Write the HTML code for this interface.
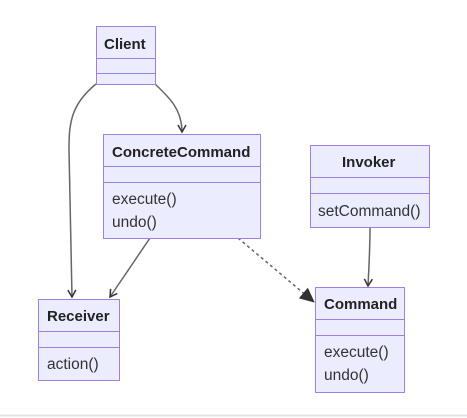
<!DOCTYPE html>
<html><head><style>
body{margin:0;width:467px;height:418px;background:#fff;overflow:hidden;position:relative;font-family:"Liberation Sans","DejaVu Sans",sans-serif;}
.b{position:absolute;background:#ECECFF;border:1px solid #9f7fe0;box-sizing:border-box;}
.d{position:absolute;left:0;right:0;border-top:1px solid #9f7fe0;}
.t{position:absolute;font-size:15.5px;color:#333;white-space:nowrap;line-height:18px;}
.h{font-weight:bold;color:#222;font-size:15px;}
</style></head><body>
<svg width="467" height="418" style="position:absolute;left:0;top:0">
<defs>
<marker id="a" markerWidth="10" markerHeight="10" refX="8" refY="5" orient="auto" markerUnits="userSpaceOnUse"><path d="M1,1 L8,5 L1,9" fill="none" stroke="#333" stroke-width="1.5"/></marker>
<marker id="f" markerWidth="16" markerHeight="14" refX="14" refY="7" orient="auto" markerUnits="userSpaceOnUse"><path d="M0,0 L15,7 L0,14 z" fill="#333"/></marker>
</defs>
<g fill="none" stroke="#666" stroke-width="1.5">
<path d="M96,84 C70,105 69,125 69,150 L72,297" marker-end="url(#a)"/>
<path d="M155,84 C170,98 182,110 182,132" marker-end="url(#a)"/>
<path d="M150,238 L110,297" marker-end="url(#a)"/>
<path d="M238,238 L314,302" stroke-dasharray="3,3" marker-end="url(#f)"/>
<path d="M370,227 C370,250 369,265 368,286" marker-end="url(#a)"/>
</g>
<line x1="0" y1="415.5" x2="467" y2="415.5" stroke="#dfe3ec" stroke-width="2"/>
</svg>
<div class="b" style="left:96px;top:26px;width:60px;height:59px"><div class="d" style="top:31px"></div><div class="d" style="top:46px"></div><div class="t h" style="left:7px;top:9px">Client</div></div>
<div class="b" style="left:103px;top:134px;width:158px;height:105px"><div class="d" style="top:31px"></div><div class="d" style="top:47px"></div><div class="t h" style="left:8px;top:9px">ConcreteCommand</div><div class="t" style="left:8px;top:56px">execute()</div><div class="t" style="left:8px;top:79px">undo()</div></div>
<div class="b" style="left:310px;top:145px;width:120px;height:83px"><div class="d" style="top:31px"></div><div class="d" style="top:47px"></div><div class="t h" style="left:31px;top:8px">Invoker</div><div class="t" style="left:7px;top:57px">setCommand()</div></div>
<div class="b" style="left:38px;top:299px;width:82px;height:82px"><div class="d" style="top:31px"></div><div class="d" style="top:47px"></div><div class="t h" style="left:8px;top:8px">Receiver</div><div class="t" style="left:8px;top:56px">action()</div></div>
<div class="b" style="left:315px;top:287px;width:90px;height:106px"><div class="d" style="top:31px"></div><div class="d" style="top:47px"></div><div class="t h" style="left:8px;top:8px">Command</div><div class="t" style="left:8px;top:56px">execute()</div><div class="t" style="left:8px;top:79px">undo()</div></div>
</body></html>
